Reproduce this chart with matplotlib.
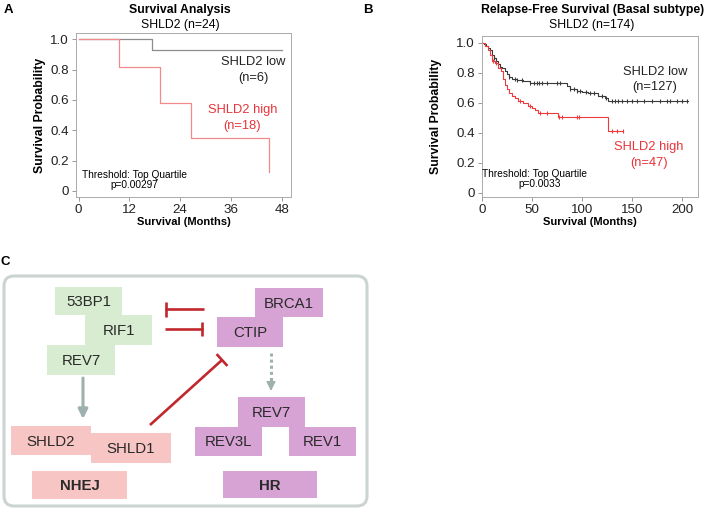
import matplotlib

matplotlib.use("Agg")
import matplotlib.pyplot as plt
from matplotlib.patches import FancyBboxPatch, Rectangle

plt.rcParams["font.family"] = ["Liberation Sans", "DejaVu Sans"]

W, H = 709, 508

# Panel A: Kaplan-Meier steps (months, survival)
a_low_t = [0, 17.4, 48]
a_low_s = [1.0, 0.93, 0.93]
a_high_t = [0, 9.6, 19.3, 26.6, 45, 45]
a_high_s = [1.0, 0.815, 0.58, 0.35, 0.125, 0.125]
a_xticks = [0, 12, 24, 36, 48]

# Panel B: relapse-free survival steps
b_low_t = [0, 2, 4, 6, 8, 10, 12, 14, 16, 18, 20, 23, 25, 27, 30, 35, 41, 48,
           85, 88, 95, 100, 106, 116, 123, 126, 206]
b_low_s = [1.0, 0.99, 0.98, 0.965, 0.95, 0.92, 0.9, 0.875, 0.86, 0.84, 0.83, 0.81,
           0.79, 0.77, 0.76, 0.75, 0.743, 0.73, 0.71, 0.69, 0.68, 0.67, 0.663,
           0.645, 0.63, 0.61, 0.61]
b_low_cens = [12, 27, 33, 35, 40, 48, 52, 55, 57, 60, 65, 75, 78, 88, 92, 95, 98,
              104, 108, 112, 120, 124, 130, 133, 136, 140, 145, 150, 155, 162,
              170, 178, 185, 188, 195, 200, 205]
b_high_t = [0, 3, 6, 8, 10, 13, 16, 19, 21, 23, 25, 27, 30, 33, 36, 41, 46, 50,
            53, 56, 76, 126, 141]
b_high_s = [1.0, 0.98, 0.95, 0.92, 0.88, 0.865, 0.83, 0.81, 0.76, 0.72, 0.69,
            0.665, 0.645, 0.63, 0.613, 0.598, 0.576, 0.565, 0.553, 0.531, 0.507,
            0.41, 0.41]
b_high_cens = [11, 14, 38, 48, 58, 65, 77, 80, 95, 97, 130, 135, 141]
b_xticks = [0, 50, 100, 150, 200]

yticks = [0, 0.2, 0.4, 0.6, 0.8, 1.0]
ytick_labels = ["0", "0.2", "0.4", "0.6", "0.8", "1.0"]

GREEN = "#d7ecd0"
PINK = "#f7c5c3"
PURPLE = "#d7a2d4"
RED = "#c1272d"
ARROW = "#9fb1ae"
TXT_RED = "#e8343a"


def step_at(times, surv, t):
    v = surv[0]
    for ti, si in zip(times, surv):
        if ti <= t:
            v = si
    return v


def px_axes(fig, x0, y0, x1, y1):
    return fig.add_axes([x0 / W, 1 - y1 / H, (x1 - x0) / W, (y1 - y0) / H])


def style_km(ax, xlim, ylim, xticks, ylabel_x):
    ax.set_xlim(*xlim)
    ax.set_ylim(*ylim)
    ax.set_xticks(xticks)
    ax.set_yticks(yticks, ytick_labels)
    ax.tick_params(labelsize=9.6, length=3, width=0.6, color="#888888", pad=2,
                   labelcolor="#222222")
    for s in ax.spines.values():
        s.set_color("#aaaaaa")
        s.set_linewidth(0.7)
    ax.set_ylabel("Survival Probability", fontsize=8.8, fontweight="bold")
    ax.yaxis.set_label_coords(ylabel_x, 0.5)
    ax.set_xlabel("Survival (Months)", fontsize=8, fontweight="bold", labelpad=1)


fig = plt.figure(figsize=(W / 100, H / 100), dpi=100)

# background axes for titles and panel C diagram (pixel coordinates)
bg = fig.add_axes([0, 0, 1, 1])
bg.set_xlim(0, W)
bg.set_ylim(H, 0)
bg.axis("off")

bg.text(8, 10, "A", fontsize=9.5, fontweight="bold", va="center", ha="center")
bg.text(180, 10, "Survival Analysis", fontsize=8.8, fontweight="bold", ha="center", va="center")
bg.text(180, 25, "SHLD2 (n=24)", fontsize=8.8, ha="center", va="center")
bg.text(368, 10, "B", fontsize=9.5, fontweight="bold", va="center", ha="center")
bg.text(593, 10, "Relapse-Free Survival (Basal subtype)", fontsize=8.8, fontweight="bold",
        ha="center", va="center")
bg.text(592, 25, "SHLD2 (n=174)", fontsize=8.8, ha="center", va="center")
bg.text(5, 262, "C", fontsize=9.5, fontweight="bold", va="center", ha="center")

# panel C frame
bg.add_patch(FancyBboxPatch((4, 276), 363, 230, boxstyle="round,pad=0,rounding_size=10",
                            fc="white", ec="#cbd4d2", lw=2.2))

boxes = [
    (55, 287, 67, 28, GREEN, "53BP1", "normal"),
    (85, 315, 67, 30, GREEN, "RIF1", "normal"),
    (47, 345, 68, 30, GREEN, "REV7", "normal"),
    (255, 288, 68, 29, PURPLE, "BRCA1", "normal"),
    (217, 317, 66, 30, PURPLE, "CTIP", "normal"),
    (238, 397, 67, 30, PURPLE, "REV7", "normal"),
    (195, 427, 67, 29, PURPLE, "REV3L", "normal"),
    (289, 427, 67, 29, PURPLE, "REV1", "normal"),
    (223, 471, 94, 27, PURPLE, "HR", "bold"),
    (11, 426, 80, 29, PINK, "SHLD2", "normal"),
    (91, 433, 80, 30, PINK, "SHLD1", "normal"),
    (32, 471, 95, 28, PINK, "NHEJ", "bold"),
]
for x, y, w, h, c, label, weight in boxes:
    bg.add_patch(Rectangle((x, y), w, h, fc=c, ec="none"))
    bg.text(x + w / 2, y + h / 2 + 1, label, fontsize=10.8, fontweight=weight,
            ha="center", va="center", color="#2a2a2a")

# arrows
bg.annotate("", xy=(83, 419), xytext=(83, 378),
            arrowprops=dict(arrowstyle="-|>", color=ARROW, lw=2.2, mutation_scale=14,
                            shrinkA=0, shrinkB=0))
bg.plot([271, 271], [353, 381], color=ARROW, lw=2.2, ls=(0, (1, 1)))
bg.annotate("", xy=(271, 391), xytext=(271, 381),
            arrowprops=dict(arrowstyle="-|>", color=ARROW, lw=1, mutation_scale=14,
                            shrinkA=0, shrinkB=0))

# inhibition marks
bg.plot([165, 204], [309, 309], color=RED, lw=1.9, solid_capstyle="butt")
bg.plot([166, 166], [302, 317], color=RED, lw=1.9, solid_capstyle="butt")
bg.plot([165, 203], [329, 329], color=RED, lw=1.9, solid_capstyle="butt")
bg.plot([202, 202], [322, 336], color=RED, lw=1.9, solid_capstyle="butt")
bg.plot([150, 222], [425, 360], color=RED, lw=1.9, solid_capstyle="butt")
bg.plot([216.6, 227.4], [354.1, 365.9], color=RED, lw=1.9, solid_capstyle="butt")

# Panel A
ax_a = px_axes(fig, 76, 33, 291, 197)
ax_a.step(a_low_t, a_low_s, where="post", color="#8c8c8c", lw=0.9)
ax_a.step(a_high_t, a_high_s, where="post", color="#f28a8a", lw=0.9)
style_km(ax_a, (-0.6, 50.2), (-0.04, 1.042), a_xticks, -0.14)
ax_a.text(41.3, 0.85, "SHLD2 low", fontsize=9.3, color="#222222", ha="center", va="center")
ax_a.text(41.3, 0.745, "(n=6)", fontsize=9.3, color="#222222", ha="center", va="center")
ax_a.text(38.7, 0.533, "SHLD2 high", fontsize=9.3, color=TXT_RED, ha="center", va="center")
ax_a.text(38.7, 0.428, "(n=18)", fontsize=9.3, color=TXT_RED, ha="center", va="center")
ax_a.text(13.3, 0.104, "Threshold: Top Quartile", fontsize=7.3, ha="center", va="center")
ax_a.text(13.3, 0.038, "p=0.00297", fontsize=7.3, ha="center", va="center")

# Panel B
ax_b = px_axes(fig, 482, 36, 698, 197)
ax_b.step(b_low_t, b_low_s, where="post", color="#3a3a3a", lw=0.8)
ax_b.step(b_high_t, b_high_s, where="post", color="#ee3a3a", lw=0.8)
ax_b.plot(b_low_cens, [step_at(b_low_t, b_low_s, t) for t in b_low_cens], ls="none",
          marker="|", ms=3.5, mew=0.8, color="#3a3a3a")
ax_b.plot(b_high_cens, [step_at(b_high_t, b_high_s, t) for t in b_high_cens], ls="none",
          marker="|", ms=3.5, mew=0.8, color="#ee3a3a")
style_km(ax_b, (0, 216), (-0.03, 1.045), b_xticks, -0.185)
ax_b.text(173, 0.805, "SHLD2 low", fontsize=9.3, color="#222222", ha="center", va="center")
ax_b.text(173, 0.705, "(n=127)", fontsize=9.3, color="#222222", ha="center", va="center")
ax_b.text(167, 0.305, "SHLD2 high", fontsize=9.3, color=TXT_RED, ha="center", va="center")
ax_b.text(167, 0.197, "(n=47)", fontsize=9.3, color=TXT_RED, ha="center", va="center")
ax_b.text(52, 0.125, "Threshold: Top Quartile", fontsize=7.3, ha="center", va="center")
ax_b.text(58, 0.058, "p=0.0033", fontsize=7.3, ha="center", va="center")

fig.savefig("out.png", dpi=100)
